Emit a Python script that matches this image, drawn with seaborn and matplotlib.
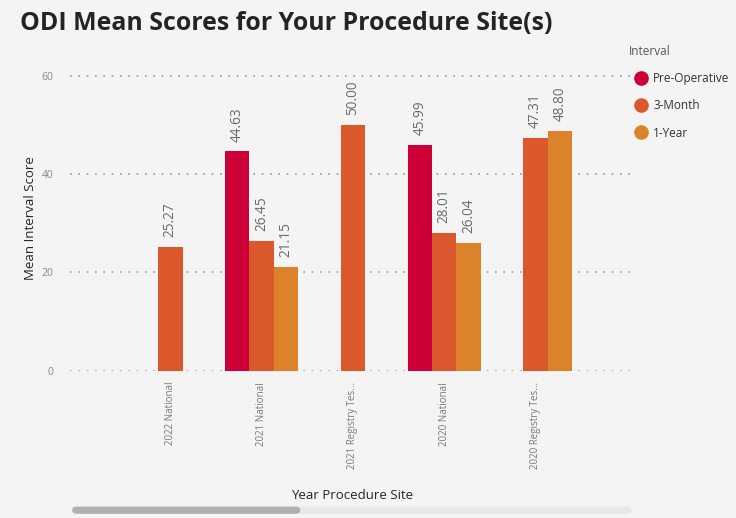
import numpy as np
import pandas as pd
import seaborn as sns
import matplotlib.pyplot as plt
from matplotlib.patches import FancyBboxPatch
from matplotlib.lines import Line2D

sites = ['2022 National', '2021 National', '2021 Registry Tes...', '2020 National', '2020 Registry Tes...']
intervals = ['Pre-Operative', '3-Month', '1-Year']
pre_op = [np.nan, 44.63, np.nan, 45.99, np.nan]
month3 = [25.27, 26.45, 50.00, 28.01, 47.31]
year1 = [np.nan, 21.15, np.nan, 26.04, 48.80]
colors = ['#CC0036', '#DB582C', '#DC822A']

df = pd.DataFrame({
    'site': sites * 3,
    'interval': np.repeat(intervals, len(sites)),
    'score': pre_op + month3 + year1,
})

bg = '#F4F4F4'
sns.set_theme(style='white')
plt.rcParams['font.family'] = ['Open Sans', 'DejaVu Sans']

fig = plt.figure(figsize=(7.36, 5.18), dpi=100, facecolor=bg)
ax = fig.add_axes([0.095, 0.284, 0.764, 0.589], facecolor=bg)

sns.barplot(data=df, x='site', y='score', hue='interval', hue_order=intervals,
            palette=colors, order=sites, width=0.8, ax=ax, legend=False,
            saturation=1, edgecolor='none', linewidth=0)

for cont in ax.containers:
    labels = ['' if np.isnan(v) else f'{v:.2f}' for v in cont.datavalues]
    ax.bar_label(cont, labels=labels, rotation=90, padding=7, fontsize=9.8, color='#6b6b6b')

ax.set_ylim(0, 62)
ax.set_xlim(-1.1, 5.06)
ax.set_yticks([0, 20, 40, 60])
ax.yaxis.grid(True, linestyle=(0, (1, 4)), color='#9a9a9a', linewidth=1.2)
ax.set_axisbelow(True)
for s in ax.spines.values():
    s.set_visible(False)
ax.tick_params(axis='y', length=0, labelsize=7.5, labelcolor='#888888', pad=12)
ax.tick_params(axis='x', length=0, labelsize=7, labelcolor='#777777', pad=8)
ax.set_xticks(range(len(sites)))
ax.set_xticklabels(sites, rotation=90, va='top')
ax.set_ylabel('Mean Interval Score', fontsize=9.5, color='#252423', labelpad=3)
ax.set_xlabel('')

fig.text(0.478, 0.043, 'Year Procedure Site', ha='center', va='center', fontsize=9.5, color='#252423')
fig.text(0.027, 0.955, 'ODI Mean Scores for Your Procedure Site(s)', ha='left', va='center',
         fontsize=17.9, fontweight='bold', color='#252423')

handles = [Line2D([0], [0], marker='o', linestyle='', markersize=9.5, markerfacecolor=c,
                  markeredgecolor=c) for c in colors]
leg = fig.legend(handles, intervals, title='Interval', loc='upper left',
                 bbox_to_anchor=(0.848, 0.922), frameon=False, fontsize=8.5,
                 title_fontsize=8.5, handletextpad=0.05, labelspacing=1.2,
                 borderaxespad=0, alignment='left')
leg.get_title().set_color('#555555')
for t in leg.get_texts():
    t.set_color('#333333')

# scrollbar
fig.patches.append(FancyBboxPatch((0.098, 0.008), 0.76, 0.014, boxstyle='round,pad=0,rounding_size=0.007',
                                  transform=fig.transFigure, facecolor='#E8E8E8', edgecolor='none'))
fig.patches.append(FancyBboxPatch((0.098, 0.008), 0.31, 0.014, boxstyle='round,pad=0,rounding_size=0.007',
                                  transform=fig.transFigure, facecolor='#B0B0B0', edgecolor='none'))

fig.savefig('out.png', dpi=100, facecolor=bg)
